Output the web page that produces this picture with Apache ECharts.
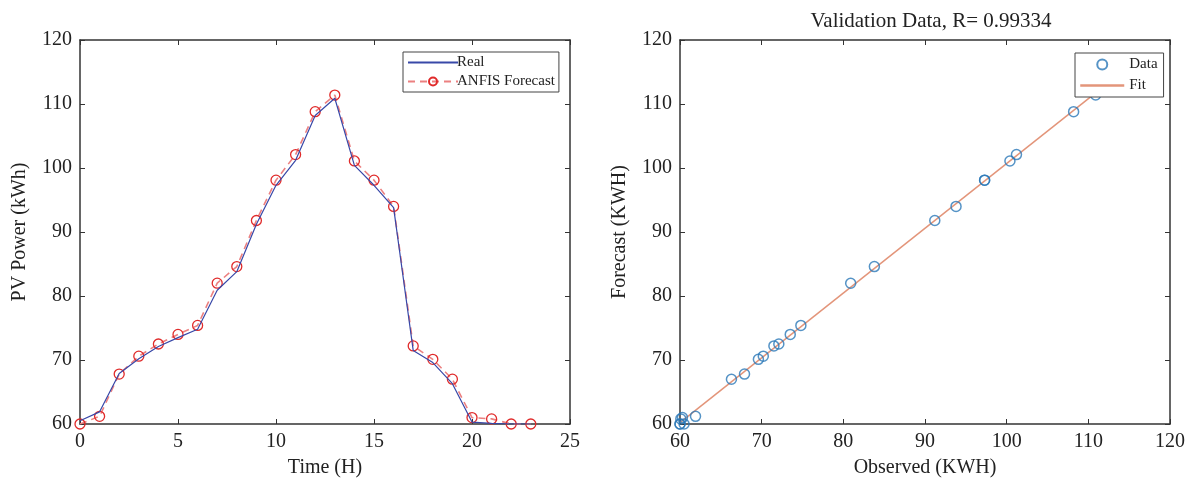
<!DOCTYPE html>
<html><head><meta charset="utf-8">
<script src="https://cdn.jsdelivr.net/npm/echarts@6/dist/echarts.min.js"></script>
<style>html,body{margin:0;padding:0;background:#fff}#c{width:1194px;height:486px}</style>
</head><body><div id="c"></div>
<script>
const hours = [0,1,2,3,4,5,6,7,8,9,10,11,12,13,14,15,16,17,18,19,20,21,22,23];
const realPower = [60.5,61.9,67.9,70.2,72.1,73.5,74.8,80.9,83.8,91.2,97.3,101.2,108.2,110.9,100.4,97.3,93.8,71.5,69.6,66.3,60.3,60.1,60.0,60.0];
const anfisForecast = [60.0,61.2,67.8,70.6,72.5,74.0,75.4,82.0,84.6,91.8,98.1,102.1,108.8,111.4,101.1,98.1,94.0,72.2,70.1,67.0,61.0,60.8,60.0,60.0];
const validationTitle = 'Validation Data, R= 0.99334';

// least-squares fit of forecast vs observed, drawn between min and max observed
const n = realPower.length;
const mx = realPower.reduce((a,b)=>a+b,0)/n, my = anfisForecast.reduce((a,b)=>a+b,0)/n;
let sxy=0,sxx=0; for(let i=0;i<n;i++){sxy+=(realPower[i]-mx)*(anfisForecast[i]-my);sxx+=(realPower[i]-mx)**2;}
const slope=sxy/sxx, icpt=my-slope*mx;
const xmin=Math.min(...realPower), xmax=Math.max(...realPower);
const fitLine=[[xmin,icpt+slope*xmin],[xmax,icpt+slope*xmax]];

const F='Liberation Serif';
const axColor='#333';
function mainAxis(gi,min,max,interval,name,gap,pos){
  return {type:'value',gridIndex:gi,min,max,interval,position:pos,name,nameLocation:'middle',nameGap:gap,
    nameTextStyle:{fontFamily:F,fontSize:20,color:'#222'},
    axisLine:{show:true,lineStyle:{color:axColor,width:1.5}},
    axisTick:{show:true,inside:true,length:5,lineStyle:{color:axColor}},
    axisLabel:{fontFamily:F,fontSize:20,color:'#222',margin:8},
    splitLine:{show:false}};
}
function sideAxis(gi,min,max,interval,pos){
  return {type:'value',gridIndex:gi,min,max,interval,position:pos,
    axisLine:{show:true,onZero:false,lineStyle:{color:axColor,width:1.5}},
    axisTick:{show:true,inside:true,length:5,lineStyle:{color:axColor}},
    axisLabel:{show:false},splitLine:{show:false}};
}
const noMark={color:'rgba(0,0,0,0)',borderWidth:0,borderColor:'rgba(0,0,0,0)'};
const chart=echarts.init(document.getElementById('c'));
chart.setOption({
  animation:false,
  title:{text:validationTitle,left:926,top:6,textAlign:'center',textStyle:{fontFamily:F,fontSize:21,fontWeight:'normal',color:'#222'}},
  grid:[{left:80,top:40,width:490,height:384},{left:680,top:40,width:490,height:384}],
  xAxis:[mainAxis(0,0,25,5,'Time (H)',34,'bottom'),sideAxis(0,0,25,5,'top'),
         mainAxis(1,60,120,10,'Observed (KWH)',34,'bottom'),sideAxis(1,60,120,10,'top')],
  yAxis:[mainAxis(0,60,120,10,'PV Power (kWh)',50,'left'),sideAxis(0,60,120,10,'right'),
         mainAxis(1,60,120,10,'Forecast (KWH)',50,'left'),sideAxis(1,60,120,10,'right')],
  legend:[
    {left:403,top:52,orient:'vertical',itemGap:4,itemWidth:50,itemHeight:10,padding:[3,4,3,4],
     borderColor:'#444',borderWidth:1,backgroundColor:'#fff',
     textStyle:{fontFamily:F,fontSize:15,color:'#222',padding:[0,0,0,-6]},
     data:[{name:'Real',itemStyle:noMark},'ANFIS Forecast']},
    {left:1075,top:53,orient:'vertical',itemGap:6,itemWidth:44,itemHeight:10,padding:[4,6,4,4],
     borderColor:'#444',borderWidth:1,backgroundColor:'#fff',
     textStyle:{fontFamily:F,fontSize:15,color:'#222'},
     data:['Data',{name:'Fit',itemStyle:noMark,lineStyle:{width:2.5}}]}
  ],
  series:[
    {name:'ANFIS Forecast',type:'line',xAxisIndex:0,yAxisIndex:0,data:hours.map((h,i)=>[h,anfisForecast[i]]),
     symbol:'circle',symbolSize:10,z:2,
     lineStyle:{color:'#ec8080',width:1.6,type:[7,5]},
     itemStyle:{color:'rgba(0,0,0,0)',borderColor:'#e02a2a',borderWidth:1.3}},
    {name:'Real',type:'line',xAxisIndex:0,yAxisIndex:0,data:hours.map((h,i)=>[h,realPower[i]]),
     symbol:'none',z:3,lineStyle:{color:'#3848a8',width:1.2},itemStyle:{color:'#3848a8'}},
    {name:'Fit',type:'line',xAxisIndex:2,yAxisIndex:2,data:fitLine,symbol:'none',z:2,
     lineStyle:{color:'#e3957a',width:1.5},itemStyle:{color:'#e3957a'}},
    {name:'Data',type:'scatter',xAxisIndex:2,yAxisIndex:2,data:realPower.map((v,i)=>[v,anfisForecast[i]]),
     symbol:'circle',symbolSize:10,z:3,
     itemStyle:{color:'rgba(0,0,0,0)',borderColor:'#2a78b8',borderWidth:1.5}}
  ]
});
</script></body></html>
